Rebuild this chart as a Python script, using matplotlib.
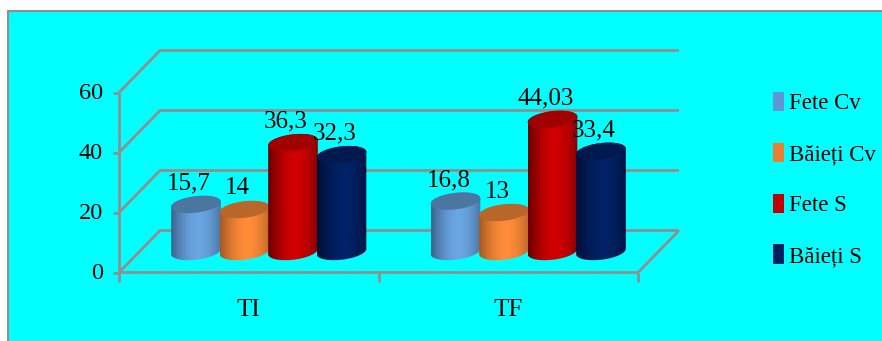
import numpy as np
import matplotlib
matplotlib.use("Agg")
import matplotlib.pyplot as plt
from matplotlib.colors import LinearSegmentedColormap
from matplotlib.patches import Patch, PathPatch, Polygon, Rectangle
from matplotlib.path import Path

plt.rcParams['font.family'] = ['Liberation Serif', 'DejaVu Serif']

categories = ["TI", "TF"]
series_names = ["Fete Cv", "Băieți Cv", "Fete S", "Băieți S"]
series_values = [
    [15.7, 16.8],
    [14, 13],
    [36.3, 44.03],
    [32.3, 33.4],
]
value_labels = [
    ["15,7", "16,8"],
    ["14", "13"],
    ["36,3", "44,03"],
    ["32,3", "33,4"],
]
y_ticks = [0, 20, 40, 60]

# edge, middle and lid shades of each cylinder, plus the legend swatch
edge_colors = ["#3f6690", "#a85c24", "#6e0000", "#001038"]
mid_colors = ["#6ba6e2", "#ff8c38", "#d00000", "#002266"]
lid_colors = ["#4a76a0", "#b8662a", "#a00000", "#001a50"]
legend_colors = ["#5f96d4", "#ed7d31", "#c00000", "#002060"]
GRID = "#8f8f8f"
BG = "#00ffff"

W, H = 882, 341
fig = plt.figure(figsize=(W / 100, H / 100), dpi=100, facecolor="white")

# backdrop with the grey frame on the left and top
back = fig.add_axes([0, 0, 1, 1])
back.set_xlim(0, W)
back.set_ylim(H, 0)
back.axis("off")
back.add_patch(Rectangle((7, 10), W, H, fc=BG, ec="none"))
back.plot([7.5, 7.5, W], [H, 10.5, 10.5], color=GRID, lw=1.5, solid_capstyle="butt")

# front plane of the plot box: x in category units, y in chart values
left, right, bottom, top = 119, 638, 272.5, 92.5
ax = fig.add_axes([left / W, 1 - bottom / H, (right - left) / W, (bottom - top) / H])
ax.set_xlim(0, 2)
ax.set_ylim(0, 60)
ax.axis("off")
ax.patch.set_alpha(0)

px_x = 2 / (right - left)
px_y = 60 / (bottom - top)
depth_x = 41 * px_x
depth_y = 42 * px_y


def line(xs, ys):
    ax.plot(xs, ys, color=GRID, lw=2.0, clip_on=False, solid_capstyle="butt", zorder=1)


# walls, floor and ticks
for v in y_ticks:
    line([0, depth_x, 2 + depth_x], [v, v + depth_y, v + depth_y])
    line([-6 * px_x, 0], [v, v])
    ax.text(-16 * px_x, v - 1 * px_y, str(v), ha="right", va="center", fontsize=17.5)
line([0, 0], [-9 * px_y, 60])
line([0, 2, 2 + depth_x], [0, 0, depth_y])
for i in range(1, 3):
    line([i, i], [0, -9 * px_y])
for i, name in enumerate(categories):
    ax.text(i + 0.5, -37 * px_y, name, ha="center", va="center", fontsize=18)

# cylinders stand halfway into the floor
bar_w = 48.5
semi_a, semi_b = 25.0, 8.2
tilt = np.radians(7)
base_x = 20 * px_x
base_y = 21 * px_y


def ellipse(cx, cy, start, stop):
    t = np.linspace(start, stop, 60)
    ex = semi_a * np.cos(t) * np.cos(tilt) - semi_b * np.sin(t) * np.sin(tilt)
    ey = semi_a * np.cos(t) * np.sin(tilt) + semi_b * np.sin(t) * np.cos(tilt)
    return np.column_stack([cx + ex * px_x, cy + ey * px_y])


t0 = np.arctan2(-semi_b * np.sin(tilt), semi_a * np.cos(tilt))
shade = np.abs(np.linspace(-1, 1, 128) - 0.1)[None, :] ** 1.8

for g in range(len(categories)):
    for s in range(len(series_names)):
        val = series_values[s][g]
        cx = g + 0.5 + base_x + (s - 1.5) * bar_w * px_x
        cy = val + base_y
        outline = np.vstack([ellipse(cx, cy, t0, t0 + np.pi),
                             ellipse(cx, base_y, t0 + np.pi, t0 + 2 * np.pi)])
        body = PathPatch(Path(np.vstack([outline, outline[:1]])), fc="none", ec="none",
                         transform=ax.transData)
        ax.add_patch(body)
        cmap = LinearSegmentedColormap.from_list("cyl", [mid_colors[s], edge_colors[s]])
        im = ax.imshow(shade, cmap=cmap, vmin=0, vmax=1.1, aspect="auto", zorder=2 + s,
                       extent=[cx - semi_a * px_x, cx + semi_a * px_x, base_y - 12 * px_y, cy + 12 * px_y])
        im.set_clip_path(body)
        ax.add_patch(Polygon(ellipse(cx, cy, 0, 2 * np.pi), fc=lid_colors[s], ec="none", zorder=2 + s))
        body.set_zorder(2 + s)
        ax.text(cx - 7 * px_x, cy + 10 * px_y, value_labels[s][g], ha="center", va="bottom",
                fontsize=18, zorder=10, clip_on=False, linespacing=1)

# imshow resets the limits
ax.set_xlim(0, 2)
ax.set_ylim(0, 60)

handles = [Patch(fc=c, ec="none") for c in legend_colors]
fig.legend(handles, series_names, loc="upper left", bbox_to_anchor=(773 / W, 1 - 92 / H), frameon=False,
           fontsize=16.5, handlelength=0.48, handleheight=0.9, handletextpad=0.22,
           labelspacing=1.24, borderpad=0, borderaxespad=0)

fig.savefig("out.png", dpi=100)
